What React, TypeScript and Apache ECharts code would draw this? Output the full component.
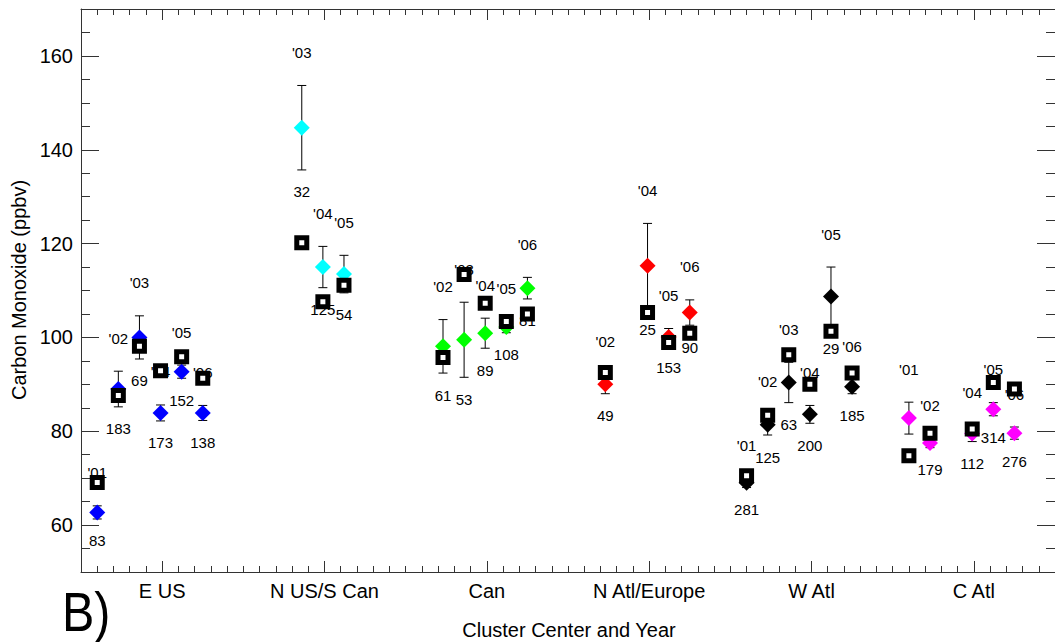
import React, { useEffect, useRef } from "react";
import * as echarts from "echarts";

// ---- categories and ticks ----
const clusterNames = ["E US", "N US/S Can", "Can", "N Atl/Europe", "W Atl", "C Atl"];
const clusterColors = ["#0000ff", "#00ffff", "#00ff00", "#ff0000", "#000000", "#ff00ff"];
const yTickValues = [60, 80, 100, 120, 140, 160];
const xTickValues = [5, 15, 25, 35, 45, 55]; // cluster centres on the 0..60 axis

// ---- data, one entry per cluster/year point ----
const pointCluster = [0, 0, 0, 0, 0, 0, 1, 1, 1, 2, 2, 2, 2, 2, 3, 3, 3, 3, 4, 4, 4, 4, 4, 4, 5, 5, 5, 5, 5];
const pointYear = [1, 2, 3, 4, 5, 6, 3, 4, 5, 2, 3, 4, 5, 6, 2, 4, 5, 6, 1, 2, 3, 4, 5, 6, 1, 2, 4, 5, 6];
const observedCO = [
  62.7, 89.0, 100.0, 83.9, 92.7, 83.9,
  144.7, 115.0, 113.5,
  98.1, 99.5, 100.9, 102.2, 110.5,
  90.0, 115.3, 100.1, 105.3,
  69.0, 81.4, 90.4, 83.6, 108.7, 89.5,
  82.8, 77.5, 79.5, 84.7, 79.6,
];
const observedErr = [
  1.4, 3.8, 4.6, 1.7, 1.4, 1.6,
  9.0, 4.4, 4.0,
  5.7, 8.0, 3.2, 1.2, 2.3,
  2.0, 9.0, 1.8, 2.7,
  1.0, 2.2, 4.3, 1.9, 6.3, 1.5,
  3.4, 1.0, 1.7, 1.4, 1.3,
];
const modelCO = [
  69.1, 87.6, 98.1, 92.9, 95.9, 91.3,
  120.2, 107.6, 111.1,
  95.7, 113.4, 107.3, 103.4, 105.0,
  92.5, 105.3, 98.9, 100.9,
  70.5, 83.4, 96.3, 90.0, 101.3, 92.4,
  74.8, 79.6, 80.5, 90.4, 89.0,
];
const sampleCount = [
  "83", "183", "69", "173", "152", "138",
  "32", "125", "54",
  "61", "53", "89", "108", "81",
  "49", "25", "153", "90",
  "281", "125", "63", "200", "29", "185",
  "", "179", "112", "314", "276",
];

const FONT = '"Liberation Sans", Arial, Helvetica, sans-serif';
const AXIS_COLOR = "#333";

function xPos(i: number): number {
  return 10 * pointCluster[i] + 1 + 1.3 * (pointYear[i] - 1);
}

export default function App() {
  const ref = useRef<HTMLDivElement>(null);

  useEffect(() => {
    if (!ref.current) return;
    const chart = echarts.init(ref.current, undefined, { renderer: "svg" });

    const idx = observedCO.map((_, i) => i);
    const errData = idx.map((i) => [xPos(i), observedCO[i], observedErr[i]]);
    const diamondData = idx.map((i) => ({
      value: [xPos(i), observedCO[i]],
      itemStyle: { color: clusterColors[pointCluster[i]], opacity: 1 },
    }));
    const squareData = idx.map((i) => [xPos(i), modelCO[i]]);

    const minorX = (pos: "top" | "bottom", labels: boolean) => [
      {
        type: "value",
        position: pos,
        min: 0,
        max: 60,
        interval: 1,
        axisLine: { show: true, onZero: false, lineStyle: { color: AXIS_COLOR, width: 1 } },
        axisTick: { show: true, inside: true, length: 6, lineStyle: { color: AXIS_COLOR } },
        axisLabel: { show: false },
        splitLine: { show: false },
      },
      {
        type: "value",
        position: pos,
        min: 0,
        max: 60,
        axisLine: { show: false, onZero: false },
        axisTick: { show: true, inside: true, length: 11, customValues: xTickValues, lineStyle: { color: AXIS_COLOR } },
        axisLabel: {
          show: labels,
          customValues: xTickValues,
          formatter: (v: number) => clusterNames[Math.round((v - 5) / 10)] ?? "",
          fontSize: 20,
          fontFamily: FONT,
          color: "#000",
          margin: 9,
        },
        splitLine: { show: false },
      },
    ];
    const minorY = (pos: "left" | "right", labels: boolean) => [
      {
        type: "value",
        position: pos,
        min: 50,
        max: 170,
        interval: 5,
        axisLine: { show: true, onZero: false, lineStyle: { color: AXIS_COLOR, width: 1 } },
        axisTick: { show: true, inside: true, length: 9, lineStyle: { color: AXIS_COLOR } },
        axisLabel: { show: false },
        splitLine: { show: false },
      },
      {
        type: "value",
        position: pos,
        min: 50,
        max: 170,
        axisLine: { show: false, onZero: false },
        axisTick: { show: true, inside: true, length: 18, customValues: yTickValues, lineStyle: { color: AXIS_COLOR } },
        axisLabel: {
          show: labels,
          customValues: yTickValues,
          fontSize: 20,
          fontFamily: FONT,
          color: "#000",
          margin: 8,
        },
        splitLine: { show: false },
      },
    ];

    chart.setOption({
      animation: false,
      backgroundColor: "#fff",
      grid: { left: 81, top: 9, width: 977, height: 563, containLabel: false },
      xAxis: [...minorX("bottom", true), ...minorX("top", false)],
      yAxis: [...minorY("left", true), ...minorY("right", false)],
      graphic: [
        {
          type: "text",
          x: 19,
          y: 290,
          rotation: Math.PI / 2,
          style: {
            text: "Carbon Monoxide (ppbv)",
            fill: "#000",
            font: `20px ${FONT}`,
            align: "center",
            verticalAlign: "middle",
          },
        },
        {
          type: "text",
          x: 569,
          y: 630,
          style: {
            text: "Cluster Center and Year",
            fill: "#000",
            font: `20px ${FONT}`,
            align: "center",
            verticalAlign: "middle",
          },
        },
        {
          type: "text",
          x: 62,
          y: 612,
          scaleX: 0.88,
          style: {
            text: "B)",
            fill: "#000",
            font: `55px ${FONT}`,
            align: "left",
            verticalAlign: "middle",
          },
        },
      ],
      series: [
        {
          type: "custom",
          name: "labels",
          xAxisIndex: 0,
          yAxisIndex: 0,
          z: 1,
          clip: false,
          encode: { x: 0, y: 1 },
          data: errData,
          renderItem: (params: any, api: any) => {
            const i = params.dataIndex;
            const x = api.value(0);
            const y = api.value(1);
            const e = api.value(2);
            const top = api.coord([x, y + e]);
            const bot = api.coord([x, y - e]);
            const mk = (text: string, py: number) => ({
              type: "text",
              x: top[0],
              y: py,
              style: {
                text,
                fill: "#000",
                font: `15px ${FONT}`,
                align: "center",
                verticalAlign: "middle",
              },
            });
            return {
              type: "group",
              children: [mk("'0" + pointYear[i], top[1] - 33), mk(sampleCount[i], bot[1] + 22)],
            };
          },
        },
        {
          type: "custom",
          name: "error",
          xAxisIndex: 0,
          yAxisIndex: 0,
          z: 2,
          clip: false,
          encode: { x: 0, y: 1 },
          data: errData,
          renderItem: (params: any, api: any) => {
            const x = api.value(0);
            const y = api.value(1);
            const e = api.value(2);
            const top = api.coord([x, y + e]);
            const bot = api.coord([x, y - e]);
            const st = { stroke: "#000", lineWidth: 1 };
            return {
              type: "group",
              children: [
                { type: "line", shape: { x1: top[0], y1: top[1], x2: bot[0], y2: bot[1] }, style: st },
                { type: "line", shape: { x1: top[0] - 4.5, y1: top[1], x2: top[0] + 4.5, y2: top[1] }, style: st },
                { type: "line", shape: { x1: bot[0] - 4.5, y1: bot[1], x2: bot[0] + 4.5, y2: bot[1] }, style: st },
              ],
            };
          },
        },
        {
          type: "scatter",
          name: "observed",
          xAxisIndex: 0,
          yAxisIndex: 0,
          z: 3,
          symbol: "diamond",
          symbolSize: 16,
          itemStyle: { opacity: 1 },
          data: diamondData,
        },
        {
          type: "scatter",
          name: "model",
          xAxisIndex: 0,
          yAxisIndex: 0,
          z: 4,
          symbol: "rect",
          symbolSize: 10,
          itemStyle: { color: "#fff", borderColor: "#000", borderWidth: 5, opacity: 1 },
          data: squareData,
        },
      ],
    });

    return () => chart.dispose();
  }, []);

  return (
    <div
      ref={ref}
      style={{ position: "fixed", left: 0, top: 0, width: 1055, height: 642, background: "#fff" }}
    />
  );
}
